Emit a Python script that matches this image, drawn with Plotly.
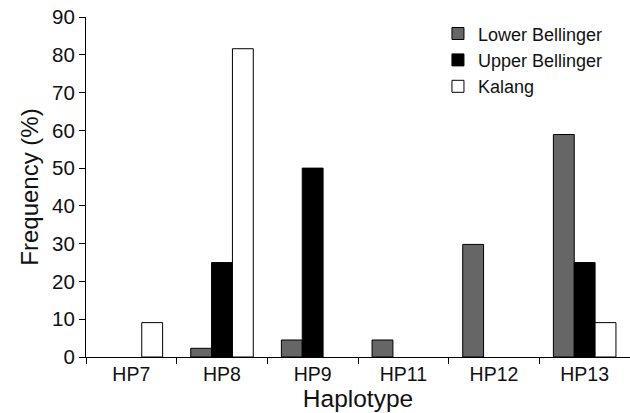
import plotly.graph_objects as go

categories = ["HP7", "HP8", "HP9", "HP11", "HP12", "HP13"]
lower_bellinger = [0, 2.3, 4.5, 4.5, 29.8, 58.9]
upper_bellinger = [0, 25, 50, 0, 0, 25]
kalang = [9.1, 81.6, 0, 0, 0, 9.1]

series = [
    ("Lower Bellinger", lower_bellinger, "#666666"),
    ("Upper Bellinger", upper_bellinger, "#000000"),
    ("Kalang", kalang, "#ffffff"),
]

fig = go.Figure()
for name, vals, col in series:
    fig.add_trace(go.Bar(
        x=categories, y=[v if v > 0 else None for v in vals], name=name,
        marker=dict(color=col, line=dict(color="#000000", width=1)),
        cliponaxis=False,
    ))

font_family = "Liberation Sans"
fig.update_layout(
    width=630, height=413,
    margin=dict(l=86, r=0, t=17, b=56),
    paper_bgcolor="white", plot_bgcolor="white",
    barmode="group", bargap=0.31, bargroupgap=0,
    font=dict(family=font_family, color="#111111", size=19),
    showlegend=True,
    legend=dict(
        x=0.647, y=1.005, xanchor="left", yanchor="top",
        font=dict(size=18, family=font_family),
        bgcolor="rgba(0,0,0,0)", tracegroupgap=0,
        itemwidth=30,
    ),
    xaxis=dict(
        type="category", range=[-0.5, 5.5], automargin=False,
        showline=True, linecolor="#000000", linewidth=1,
        ticks="outside", tickson="boundaries", ticklen=6, tickcolor="#000000",
        tickfont=dict(size=19.5),
        title=dict(text="Haplotype", font=dict(size=24.5), standoff=0),
        showgrid=False, zeroline=False,
    ),
    yaxis=dict(
        range=[0, 90], tickvals=list(range(0, 91, 10)), automargin=False,
        showline=True, linecolor="#000000", linewidth=1,
        ticks="outside", ticklen=6, tickcolor="#000000",
        tickfont=dict(size=20.5),
        title=dict(text="Frequency (%)", font=dict(size=24), standoff=6),
        showgrid=False, zeroline=False,
    ),
)

fig.write_html(
    "out.html",
    config={"displayModeBar": False},
    post_script="document.body.style.margin='0';document.body.style.overflow='hidden';",
)
